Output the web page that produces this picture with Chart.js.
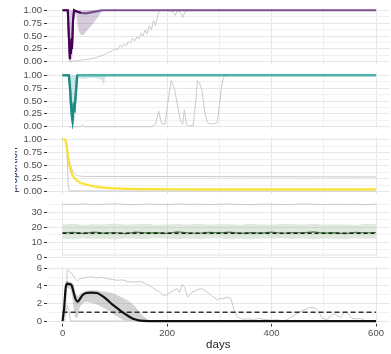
<!DOCTYPE html>
<html>
<head>
<meta charset="utf-8">
<script src="https://cdn.jsdelivr.net/npm/chart.js@4.4.1/dist/chart.umd.min.js"></script>
<style>
  html, body { margin: 0; padding: 0; background: #fff; }
  body { width: 391px; height: 354px; position: relative; overflow: hidden; font-family: "Liberation Sans", Arial, sans-serif; }
  canvas { position: absolute; left: 0; }
  #ylab { position: absolute; left: 15px; top: 138px; width: 5px; height: 64px; overflow: hidden; }
  #ylab span { position: absolute; left: -33px; top: 26px; width: 64px; height: 12px; line-height: 12px; text-align: center;
    font-size: 10px; color: #222; transform: rotate(-90deg); white-space: nowrap; }
</style>
</head>
<body>
<div id="ylab"><span>proportion</span></div>
<canvas id="p1"></canvas>
<canvas id="p2"></canvas>
<canvas id="p3"></canvas>
<canvas id="p4"></canvas>
<canvas id="p5"></canvas>
<script>
// tick values
const propTicks = [0, 0.125, 0.25, 0.375, 0.5, 0.625, 0.75, 0.875, 1];
const p4Ticks = [0, 5, 10, 15, 20, 25, 30, 35];
const p5Ticks = [0, 1, 2, 3, 4, 5, 6];
const dayTicks = [0, 100, 200, 300, 400, 500, 600];

// panel 1 (purple)
const p1Days = [0, 10, 12, 14, 15, 16, 17, 18, 19, 20, 22, 26, 35, 44, 55, 65, 75, 600];
const p1Line = [1, 1, 0.5, 0.05, 0.3, 0.15, 0.45, 0.25, 0.5, 0.8, 1, 0.98, 0.95, 0.94, 0.96, 0.98, 1, 1];
const p1RibDays = [0, 9, 11, 13, 16, 19, 22, 26, 29, 31, 34, 40, 50, 60, 70, 77];
const p1RibLow = [1, 1, 0.3, 0, 0, 0.1, 0.85, 0.95, 0.7, 0.6, 0.53, 0.52, 0.64, 0.76, 0.9, 1];
const p1GrayDays = [12, 20, 30, 40, 50, 60, 70, 80, 88, 95, 100, 105, 110, 114, 118, 122, 126, 130, 134, 138, 142, 146,
  150, 154, 158, 162, 166, 170, 174, 178, 182, 186, 190, 200, 212, 216, 220, 226, 230, 234, 240, 600];
const p1Gray = [0, 0.01, 0.02, 0.04, 0.05, 0.07, 0.1, 0.14, 0.18, 0.21, 0.25, 0.23, 0.32, 0.29, 0.35, 0.31, 0.4, 0.36, 0.45, 0.4, 0.48, 0.44,
  0.55, 0.5, 0.62, 0.55, 0.7, 0.62, 0.8, 0.7, 0.9, 1, 1, 1, 0.97, 0.9, 1, 0.95, 0.86, 0.97, 1, 1];

// panel 2 (teal)
const p2Days = [0, 12, 14, 16, 18, 19, 21, 23, 25, 28, 600];
const p2Line = [1, 1, 0.8, 0.45, 0.2, 0.13, 0.4, 0.35, 0.6, 1, 1];
const p2RibDays = [0, 12, 14, 16, 19, 22, 25, 28, 32, 40, 50, 60, 70, 76, 79, 81, 84];
const p2RibLow = [1, 1, 0.6, 0.1, 0.04, 0.05, 0.3, 0.9, 0.95, 0.93, 0.94, 0.95, 0.93, 0.9, 0.8, 0.95, 1];
const p2GrayDays = [12, 34, 38, 42, 170, 178, 184, 190, 196, 202, 208, 214, 220, 226, 230, 233, 237, 240, 250, 255, 258,
  262, 267, 272, 277, 285, 296, 300, 304, 308, 315, 600];
const p2Gray = [0, 0, 0.04, 0, 0, 0.05, 0.3, 0.05, 0.05, 0.5, 0.9, 0.75, 0.42, 0.1, 0.05, 0.33, 0.05, 0.02, 0.02, 0.5, 0.9,
  0.85, 0.7, 0.3, 0.08, 0.05, 0.08, 0.4, 0.75, 0.97, 1, 1];

// panel 3 (yellow)
const p3Days = [0, 5, 9, 12, 17, 22, 28, 36, 47, 60, 73, 90, 105, 130, 168, 250, 600];
const p3Line = [1, 1, 0.79, 0.55, 0.36, 0.27, 0.21, 0.16, 0.13, 0.1, 0.08, 0.065, 0.06, 0.05, 0.045, 0.042, 0.04];
const p3GrayADays = [0, 5, 8, 11, 14, 18, 22, 26, 30, 40, 600];
const p3GrayA = [1, 1, 0.9, 0.7, 0.55, 0.42, 0.35, 0.31, 0.3, 0.29, 0.28];
const p3GrayBDays = [0, 6, 9, 11, 13, 600];
const p3GrayB = [1, 1, 0.6, 0.1, 0.01, 0.01];

// panel 4 (green)
const p4Days = [0, 20, 40, 60, 80, 100, 120, 140, 160, 180, 200, 220, 240, 260, 280, 300, 320, 340, 360, 380, 400,
  420, 440, 460, 480, 500, 520, 540, 560, 580, 600];
const p4Line = [16.2, 16.6, 15.9, 16.8, 16.1, 16.5, 15.8, 16.7, 16.2, 16.4, 15.9, 16.9, 16.3, 16.0, 16.6, 16.2, 16.8, 15.9,
  16.4, 16.1, 16.7, 16.0, 16.5, 16.3, 16.9, 16.1, 16.4, 15.8, 16.6, 16.2, 16.5];
const p4RibHigh = [21.8, 22.3, 21.5, 22.0, 21.7, 22.4, 21.6, 21.9, 22.2, 21.5, 21.8, 22.1, 21.7, 22.3, 21.6, 21.9, 22.0,
  21.5, 22.2, 21.8, 21.6, 22.1, 21.9, 21.7, 22.3, 21.6, 22.0, 21.8, 21.5, 22.1, 21.9];
const p4RibLow = [12.4, 12.0, 12.7, 12.2, 12.5, 11.9, 12.6, 12.3, 12.1, 12.8, 12.4, 12.0, 12.6, 12.2, 12.5, 12.7, 12.1,
  12.4, 12.0, 12.6, 12.3, 12.8, 12.2, 12.5, 12.0, 12.6, 12.4, 12.1, 12.7, 12.3, 12.5];
const p4GrayTop = [35.2, 35.0, 35.3, 34.9, 35.1, 35.4, 35.0, 34.8, 35.2, 35.1, 34.9, 35.3, 35.0, 35.2, 34.9, 35.1, 35.3,
  35.0, 34.8, 35.2, 35.1, 34.9, 35.0, 35.3, 35.1, 34.9, 35.2, 35.0, 35.1, 34.8, 35.2];
const p4GrayLowDays = [0, 600];
const p4GrayLow = [1.6, 1.6];
const p4Ref = [16, 16];

// panel 5 (black)
const p5Days = [0, 3, 6, 9, 12, 15, 18, 21, 25, 29, 33, 38, 45, 55, 66, 75, 85, 95, 105, 115, 125, 135, 145, 155, 165, 175, 600];
const p5Line = [0, 1.5, 3.8, 4.3, 4.2, 4.2, 4.0, 3.3, 2.5, 2.2, 2.5, 2.95, 3.2, 3.25, 3.2, 2.9, 2.45, 1.9, 1.45, 1.0, 0.6,
  0.25, 0.08, 0.02, 0, 0, 0];
const p5RibLow = [0, 0.5, 2.8, 3.8, 3.7, 3.6, 3.0, 1.5, 0.3, 0.5, 1.6, 2.0, 2.2, 2.1, 1.9, 1.6, 1.3, 0.9, 0.5, 0.15, 0, 0, 0, 0, 0, 0, 0];
const p5RibHigh = [0, 2.5, 4.6, 4.6, 4.5, 4.5, 4.4, 4.2, 3.2, 2.8, 3.1, 3.3, 3.45, 3.5, 3.5, 3.4, 3.3, 3.2, 2.95, 2.65, 2.35,
  1.9, 1.2, 0.55, 0.1, 0, 0];
const p5GrayDays = [5, 9, 14, 18, 23, 28, 33, 37, 45, 55, 65, 73, 85, 95, 104, 115, 125, 136, 150, 161, 170, 180, 187, 193,
  200, 206, 213, 219, 224, 229, 234, 239, 244, 248, 256, 264, 270, 277, 285, 290, 296, 301, 306, 315, 322, 325, 328, 333,
  337, 345, 355, 365, 375, 385, 398, 410, 420, 428, 436, 445, 452, 462, 470, 478, 484, 490, 497, 506, 512, 519, 526, 532,
  537, 542, 548, 554, 562, 570, 577, 580];
const p5Gray = [0.5, 5.9, 5.6, 5.4, 4.9, 4.6, 4.8, 4.9, 4.95, 5.05, 4.9, 5.0, 4.85, 4.75, 4.65, 4.7, 4.5, 4.45, 4.5, 4.2,
  3.9, 3.5, 3.3, 2.9, 3.0, 3.25, 3.5, 3.7, 3.2, 4.2, 3.8, 2.75, 3.0, 3.3, 3.5, 3.7, 3.6, 3.3, 2.9, 2.7, 2.4, 2.6, 2.55,
  2.7, 2.6, 2.0, 1.25, 0.7, 0.4, 0.2, 0.25, 0.15, 0.3, 0.2, 0.1, 0.15, 0.05, 0.1, 0.4, 0.7, 1.0, 1.25, 1.5, 1.55, 1.5,
  1.1, 0.3, 0.15, 0.5, 0.87, 0.6, 0.4, 0.8, 1.15, 0.7, 0.3, 0.25, 0.3, 0.1, 0.05];
const p5GrayLowDays = [3, 6, 9, 12, 15, 20, 600];
const p5GrayLow = [0, 0.8, 1.8, 1.2, 0.1, 0, 0];
const p5RefDays = [0, 600];
const p5Ref = [1, 1];

const GRAY = "#c9c9c9";
const TICK_FONT = { family: "'Liberation Sans', Arial, sans-serif", size: 9.5 };

function pts(xs, ys) {
  return xs.map((x, i) => ({ x: x, y: ys[i] }));
}

function line(xs, ys, color, width, extra) {
  return Object.assign({
    data: pts(xs, ys),
    borderColor: color,
    borderWidth: width,
    pointRadius: 0,
    fill: false,
    tension: 0,
    order: 2
  }, extra || {});
}

function drawPanel(id, box, yRange, yTicks, isMajor, fmt, datasets, showX) {
  const pad = 7;
  const canvas = document.getElementById(id);
  const top = Math.floor(box.top - pad);
  const bottom = showX ? 354 : Math.ceil(box.bottom + pad);
  const height = bottom - top;
  canvas.width = 391;
  canvas.height = height;
  canvas.style.width = "391px";
  canvas.style.height = height + "px";
  canvas.style.top = top + "px";

  new Chart(canvas, {
    type: "line",
    data: { datasets: datasets },
    options: {
      responsive: false,
      animation: false,
      devicePixelRatio: 1,
      layout: {
        padding: {
          top: box.top - top,
          bottom: showX ? 0 : bottom - box.bottom,
          left: 0,
          right: 1.5
        }
      },
      plugins: { legend: { display: false }, tooltip: { enabled: false } },
      scales: {
        x: {
          type: "linear",
          min: -29.8,
          max: 625.8,
          afterBuildTicks: (ax) => { ax.ticks = dayTicks.map((v) => ({ value: v })); },
          afterFit: (ax) => { ax.height = showX ? 354 - box.bottom : 0; },
          border: { display: false },
          grid: {
            color: (c) => (c.tick && c.tick.value % 200 === 0 ? "#e6e6e6" : "#f1f1f1"),
            lineWidth: 1,
            drawTicks: showX,
            tickLength: 3,
            tickColor: (c) => (c.tick && c.tick.value % 200 === 0 ? "#333" : "rgba(0,0,0,0)")
          },
          ticks: {
            display: showX,
            autoSkip: false,
            maxRotation: 0,
            padding: 1,
            color: "#4d4d4d",
            font: TICK_FONT,
            callback: (v) => (v % 200 === 0 ? String(v) : "")
          },
          title: {
            display: showX,
            text: "days",
            color: "#222",
            padding: { top: 2, bottom: 2 },
            font: { family: "'Liberation Sans', Arial, sans-serif", size: 11.5 }
          }
        },
        y: {
          type: "linear",
          min: yRange[0],
          max: yRange[1],
          afterBuildTicks: (ax) => { ax.ticks = yTicks.map((v) => ({ value: v })); },
          afterFit: (ax) => { ax.width = 47; },
          border: { display: false },
          grid: {
            color: (c) => (c.tick && isMajor(c.tick.value) ? "#e6e6e6" : "#f1f1f1"),
            lineWidth: 1,
            tickLength: 3,
            tickColor: (c) => (c.tick && isMajor(c.tick.value) ? "#333" : "rgba(0,0,0,0)")
          },
          ticks: {
            autoSkip: false,
            padding: 2,
            color: "#4d4d4d",
            font: TICK_FONT,
            callback: (v) => (isMajor(v) ? fmt(v) : "")
          }
        }
      }
    }
  });
}

// panel boxes (top / bottom of plotting area in px)
const boxes = [
  { top: 7.5, bottom: 64.7 },
  { top: 72.2, bottom: 129.4 },
  { top: 136.9, bottom: 194.1 },
  { top: 201.6, bottom: 258.8 },
  { top: 266.3, bottom: 323.5 }
];

const propMajor = (v) => Math.abs(v * 4 - Math.round(v * 4)) < 1e-6;
const propFmt = (v) => v.toFixed(2);

drawPanel("p1", boxes[0], [-0.05, 1.05], propTicks, propMajor, propFmt, [
  line(p1RibDays, p1RibLow, "rgba(0,0,0,0)", 0, { fill: { value: 1 }, backgroundColor: "rgba(110,70,135,0.28)", order: 5 }),
  line(p1GrayDays, p1Gray, GRAY, 1, { order: 4 }),
  line(p1Days, p1Line, "#7b5090", 2.2, { order: 2 }),
  line(p1Days.slice(0, 13), p1Line.slice(0, 13), "#440154", 2, { order: 1 })
], false);

drawPanel("p2", boxes[1], [-0.05, 1.05], propTicks, propMajor, propFmt, [
  line(p2RibDays, p2RibLow, "rgba(0,0,0,0)", 0, { fill: { value: 1 }, backgroundColor: "rgba(33,144,140,0.22)", order: 5 }),
  line(p2GrayDays, p2Gray, GRAY, 1, { order: 4 }),
  line(p2Days, p2Line, "#4db3aa", 2.4, { order: 2 }),
  line(p2Days.slice(0, 10), p2Line.slice(0, 10), "#1f8a84", 2.2, { order: 1 })
], false);

drawPanel("p3", boxes[2], [-0.05, 1.05], propTicks, propMajor, propFmt, [
  line(p3GrayADays, p3GrayA, GRAY, 1, { order: 4 }),
  line(p3GrayBDays, p3GrayB, GRAY, 1, { order: 4 }),
  line(p3Days, p3Line, "#f9e231", 2.2, { order: 1, tension: 0.3 })
], false);

drawPanel("p4", boxes[3], [-0.52, 36.8], p4Ticks, (v) => v % 10 === 0, (v) => String(v), [
  line(p4Days, p4RibLow, "rgba(0,0,0,0)", 0, { order: 6 }),
  line(p4Days, p4RibHigh, "rgba(0,0,0,0)", 0, { fill: "-1", backgroundColor: "rgba(170,195,165,0.38)", order: 5 }),
  line(p4Days, p4GrayTop, GRAY, 1, { order: 4 }),
  line(p4GrayLowDays, p4GrayLow, "#e3e3e3", 1, { order: 4 }),
  line(p4Days, p4Line, "#4a8a44", 1.2, { order: 2 }),
  line(p4GrayLowDays, p4Ref, "#1a1a1a", 1.5, { order: 1, borderDash: [4, 3] })
], false);

drawPanel("p5", boxes[4], [-0.28, 6.2], p5Ticks, (v) => v % 2 === 0, (v) => String(v), [
  line(p5Days, p5RibLow, "rgba(0,0,0,0)", 0, { order: 6 }),
  line(p5Days, p5RibHigh, "rgba(0,0,0,0)", 0, { fill: "-1", backgroundColor: "rgba(150,150,150,0.42)", order: 5 }),
  line(p5GrayDays, p5Gray, GRAY, 1, { order: 4 }),
  line(p5GrayLowDays, p5GrayLow, GRAY, 1, { order: 4 }),
  line(p5RefDays, p5Ref, "#333", 1.5, { order: 3, borderDash: [5, 3] }),
  line(p5Days, p5Line, "#111", 2.2, { order: 1, tension: 0.2 })
], true);
</script>
</body>
</html>
